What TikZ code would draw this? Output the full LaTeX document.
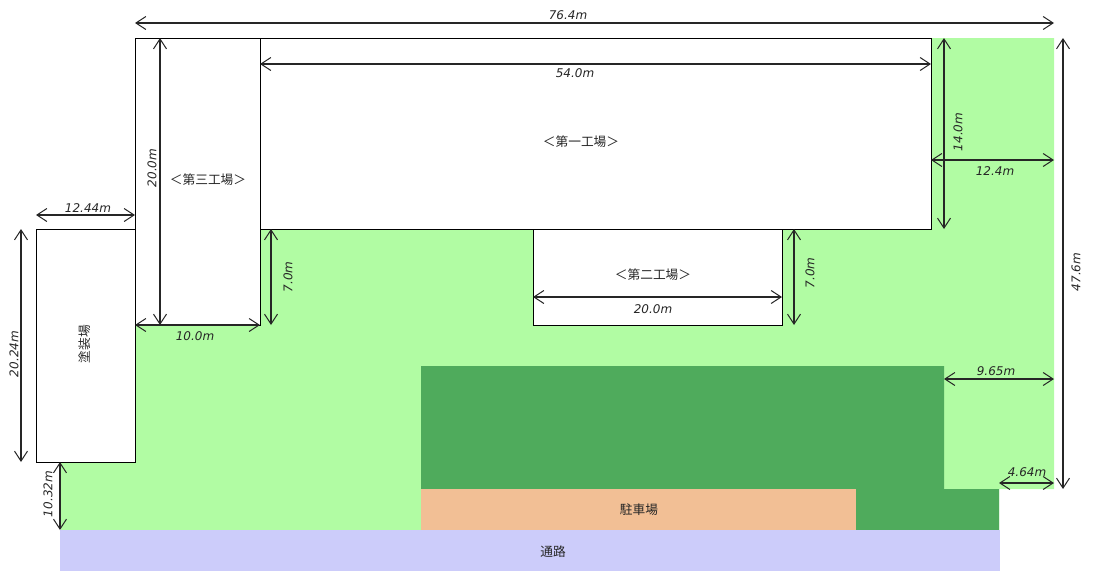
\documentclass[tikz,border=0pt]{standalone}
\usepackage{fontspec}
\setmainfont{DejaVu Sans}
\newfontfamily\cjk{Noto Sans CJK JP}
\usetikzlibrary{arrows.meta}
\definecolor{lawn}{HTML}{B1FCA3}
\definecolor{trees}{HTML}{4FAB5C}
\definecolor{parking}{HTML}{F2BF95}
\definecolor{road}{HTML}{CCCCFA}
\tikzset{
  bldg/.style={draw=black,fill=white,line width=1pt,inner sep=0pt,outer sep=0pt,anchor=north west},
  ground/.style={inner sep=0pt,outer sep=0pt,anchor=north west},
  dimline/.style={<->,>={Straight Barb[length=10pt,width=13pt,line width=1pt]},line width=1.1pt,color=black!85},
  dimtext/.style={font=\fontsize{12}{14}\selectfont\itshape,inner sep=0pt,color=black!85},
  placename/.style={font=\fontsize{12.7}{14}\selectfont\cjk,inner sep=0pt,color=black!85}
}
\begin{document}
\begin{tikzpicture}[x=1pt,y=-1pt]
            \useasboundingbox (0,0) rectangle (1100,584);
            \fill[lawn] (61,530) -- (61,462) -- (135,462) -- (135,229) -- (931,229) -- (931,38) -- (1054,38) -- (1054,489) -- (999,489) -- (999,530) -- cycle;
            \fill[trees] (421,366) -- (944,366) -- (944,489) -- (999,489) -- (999,530) -- (421,530) -- cycle;
            \node[ground,fill=parking,minimum width=435pt,minimum height=41pt] (parkingarea) at (421,489) {};
            \node[ground,fill=road,minimum width=940pt,minimum height=41pt] (roadarea) at (60,530) {};
            \node[bldg,minimum width=125pt,minimum height=287pt] (plant3) at (135,38) {};
            \node[bldg,minimum width=671pt,minimum height=191pt] (plant1) at (260,38) {};
            \node[bldg,minimum width=249pt,minimum height=96pt] (plant2) at (533,229) {};
            \node[bldg,minimum width=99pt,minimum height=233pt] (paint) at (36,229) {};
            % names
            \node[placename] (plant1name) at (581,142) {＜第一工場＞};
            \node[placename] (plant2name) at (653,275) {＜第二工場＞};
            \node[placename] (plant3name) at (208,180) {＜第三工場＞};
            \node[placename,rotate=90] (paintname) at (85,344) {塗装場};
            \node[placename] (parkingname) at (639,510) {駐車場};
            \node[placename] (roadname) at (553,552) {通路};
            % end points
            \coordinate (totalL) at (135,23);
            \coordinate (totalR) at (1054,23);
            \coordinate (p1wL) at (260,64);
            \coordinate (p1wR) at (931,64);
            \coordinate (p3hT) at (160,38);
            \coordinate (p3hB) at (160,325);
            \coordinate (paintwL) at (36,215);
            \coordinate (paintwR) at (135,215);
            \coordinate (painthT) at (21,229);
            \coordinate (painthB) at (21,462);
            \coordinate (gapL) at (271,229);
            \coordinate (gapB) at (271,325);
            \coordinate (p2wL) at (533,297);
            \coordinate (p2wR) at (782,297);
            \coordinate (p2hT) at (794,229);
            \coordinate (p2hB) at (794,325);
            \coordinate (p1hT) at (944,38);
            \coordinate (p1hB) at (944,229);
            \coordinate (eastL) at (931,160);
            \coordinate (eastR) at (1054,160);
            \coordinate (siteT) at (1063,38);
            \coordinate (siteB) at (1063,489);
            \coordinate (treeL) at (944,379);
            \coordinate (treeR) at (1054,379);
            \coordinate (cornerL) at (999,483);
            \coordinate (cornerR) at (1054,483);
            \coordinate (southT) at (60,462);
            \coordinate (southB) at (60,530);
            % dimensions
            \draw[dimline] (totalL) -- (totalR);
            \draw[dimline] (p1wL) -- (p1wR);
            \draw[dimline] (p3hT) -- (p3hB);
            \draw[dimline] (paintwL) -- (paintwR);
            \draw[dimline] (painthT) -- (painthB);
            \draw[dimline] (plant3.south west) -- (plant3.south east);
            \draw[dimline] (gapL) -- (gapB);
            \draw[dimline] (p2wL) -- (p2wR);
            \draw[dimline] (p2hT) -- (p2hB);
            \draw[dimline] (p1hT) -- (p1hB);
            \draw[dimline] (eastL) -- (eastR);
            \draw[dimline] (siteT) -- (siteB);
            \draw[dimline] (treeL) -- (treeR);
            \draw[dimline] (cornerL) -- (cornerR);
            \draw[dimline] (southT) -- (southB);
            % labels
            \node[dimtext] (totaltext) at (568,15) {76.4m};
            \node[dimtext] (p1wtext) at (575,73) {54.0m};
            \node[dimtext,rotate=90] (p3htext) at (152,168) {20.0m};
            \node[dimtext] (paintwtext) at (88,208) {12.44m};
            \node[dimtext,rotate=90] (painthtext) at (14,354) {20.24m};
            \node[dimtext] (p3wtext) at (195,336) {10.0m};
            \node[dimtext,rotate=90] (gaptext) at (288,277) {7.0m};
            \node[dimtext] (p2wtext) at (653,309) {20.0m};
            \node[dimtext,rotate=90] (p2htext) at (810,273) {7.0m};
            \node[dimtext,rotate=90] (p1htext) at (958,132) {14.0m};
            \node[dimtext] (easttext) at (995,171) {12.4m};
            \node[dimtext,rotate=90] (sitetext) at (1076,272) {47.6m};
            \node[dimtext] (treetext) at (996,371) {9.65m};
            \node[dimtext] (cornertext) at (1027,472) {4.64m};
            \node[dimtext,rotate=90] (southtext) at (48,494) {10.32m};
        \end{tikzpicture}
\end{document}
